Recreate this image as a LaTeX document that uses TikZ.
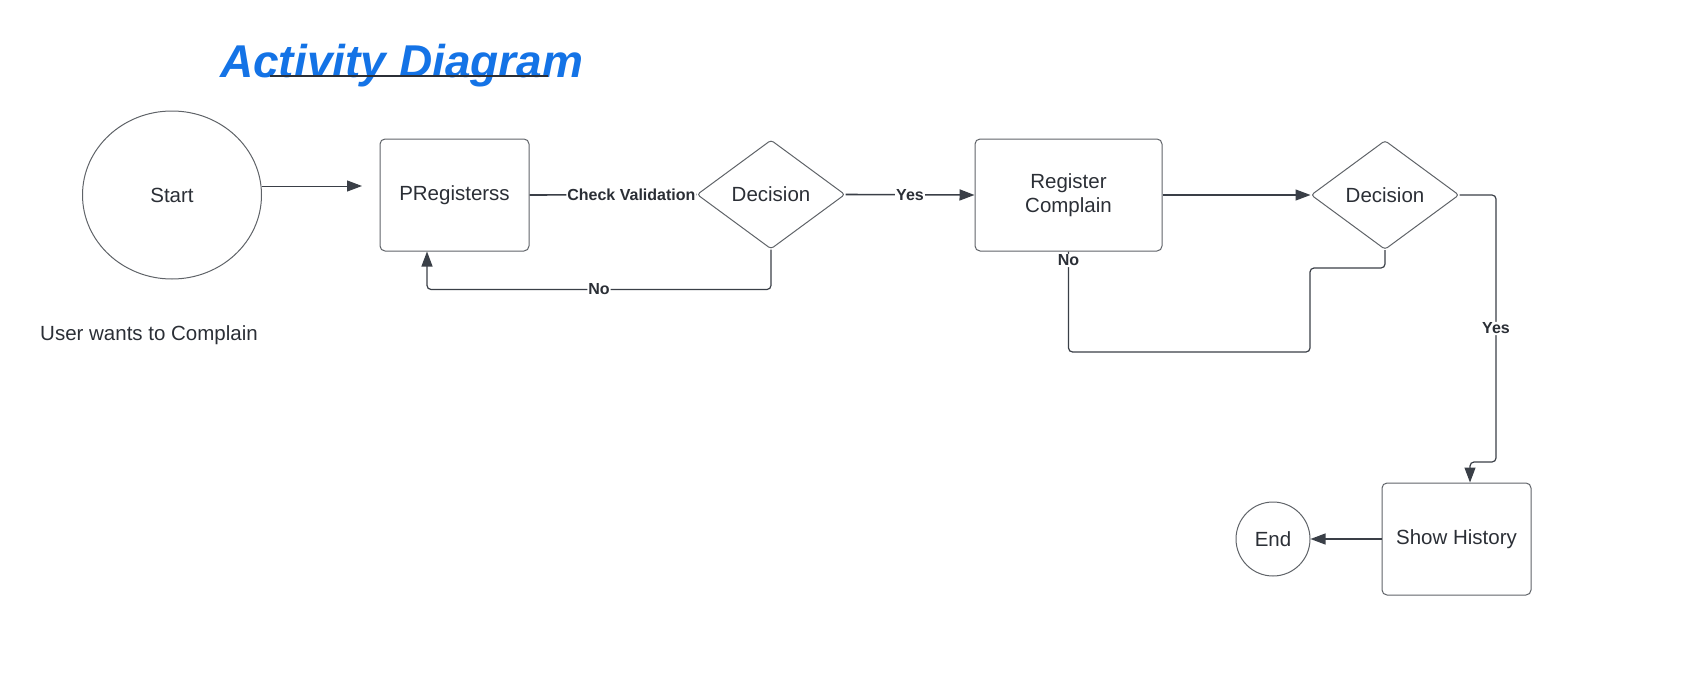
\documentclass[tikz,border=0pt]{standalone}
\usepackage{xcolor}
\usepackage{fontspec}
\setmainfont{Liberation Sans}
\usetikzlibrary{shapes,arrows,positioning,calc,arrows.meta}
\definecolor{ink}{HTML}{2B2F36}
\definecolor{edge}{HTML}{3A3F47}
\definecolor{rim}{HTML}{5F6368}
\definecolor{titleblue}{HTML}{1473E6}

\begin{document}
\begin{tikzpicture}[x=1pt, y=-1pt,
    every node/.style={text=ink, font=\fontsize{20.5}{24}\selectfont},
    actbox/.style={draw=rim, line width=1pt, rounded corners=5pt, minimum width=149pt, minimum height=112pt, align=center},
    decide/.style={diamond, draw=rim, line width=1pt, aspect=1.36, minimum width=148pt, minimum height=109pt, inner sep=0pt, rounded corners=3pt},
    flow/.style={draw=edge, line width=1.2pt, rounded corners=4pt, -{Triangle[length=15pt, width=11pt]}},
    link/.style={draw=edge, line width=1.2pt, rounded corners=4pt},
    lbl/.style={fill=white, inner sep=1pt, font=\fontsize{16}{18}\selectfont\bfseries}]
        \useasboundingbox (0,0) rectangle (1686,680);
        % Title
        \node[anchor=base west, inner sep=0pt, text=titleblue, font=\fontsize{46}{50}\selectfont\bfseries\itshape] (ttl) at (220,77) {Activity Diagram};
        \draw[draw=ink, line width=2pt] (270,76) -- (548,76);

        % Activities
        \node[ellipse, draw=rim, line width=1pt, minimum width=179pt, minimum height=168pt] (st) at (172,195) {Start};
        \node[anchor=base west, inner sep=0pt] (who) at (40,340) {User wants to Complain};
        \node[actbox] (reg1) at (454.5,195) {PRegisterss};
        \node[decide] (dec1) at (771,194.5) {Decision};
        \node[actbox, minimum width=187pt] (reg2) at (1068.5,195) {Register\\Complain};
        \node[decide] (dec2) at (1385,195) {Decision};
        \node[actbox] (shw) at (1456.5,539) {Show History};
        \node[circle, draw=rim, line width=1pt, minimum size=74pt, inner sep=0pt] (fin) at (1273,539) {End};

        % Flows
        \coordinate (stin) at (362,186);
        \draw[flow, line width=1pt] ([yshift=9pt]st.east) -- (stin);
        \draw[link, line width=1.6pt] (reg1.east) -- node[lbl, pos=0.61] {Check Validation} (dec1.west);
        \draw[flow, line width=1.6pt] (dec1.east) -- node[lbl] {Yes} (reg2.west);
        \draw[flow] (dec1.south) -- ++(0,40) -| node[lbl, pos=0.25] {No} ([xshift=-27.5pt]reg1.south);
        \draw[flow] (reg2.east) -- (dec2.west);
        \draw[link] (dec2.south) |- (1310,268) -- (1310,352) -| node[lbl, pos=0.955] {No} (reg2.south);
        \draw[flow] (dec2.east) -| node[lbl, pos=0.75] {Yes} (1496,462) -| ([xshift=13.5pt]shw.north);
        \draw[flow] (shw.west) -- (fin.east);
    \end{tikzpicture}
\end{document}
